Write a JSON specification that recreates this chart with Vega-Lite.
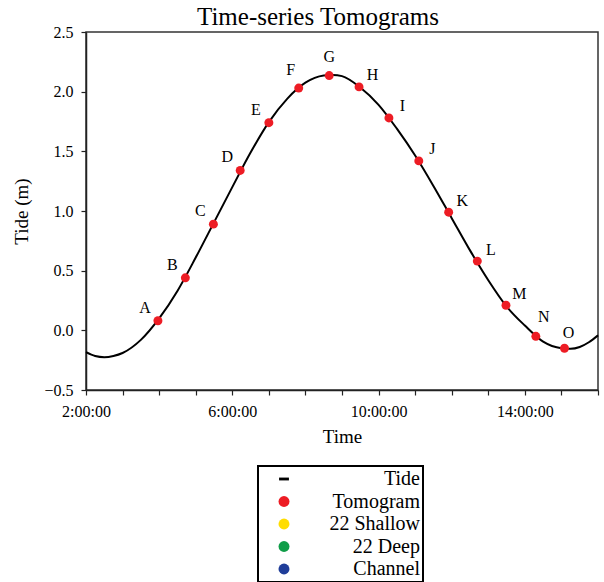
{
  "$schema": "https://vega.github.io/schema/vega-lite/v6.json",
  "width": 512,
  "height": 358,
  "autosize": {"type": "none"},
  "padding": {"left": 86, "top": 32, "right": 6, "bottom": 192},
  "background": "white",
  "title": {"text": "Time-series Tomograms", "font": "Liberation Serif", "fontSize": 25, "fontWeight": "normal", "color": "black", "anchor": "middle", "frame": "group", "dx": -24, "dy": 25, "baseline": "alphabetic", "offset": -1},
  "datasets": {
    "tide": [
      {"time": "2000-01-01T02:00:00", "tide_m": -0.183},
      {"time": "2000-01-01T02:15:00", "tide_m": -0.215},
      {"time": "2000-01-01T02:30:00", "tide_m": -0.225},
      {"time": "2000-01-01T02:45:00", "tide_m": -0.215},
      {"time": "2000-01-01T03:00:00", "tide_m": -0.19},
      {"time": "2000-01-01T03:30:00", "tide_m": -0.08},
      {"time": "2000-01-01T04:00:00", "tide_m": 0.10},
      {"time": "2000-01-01T04:30:00", "tide_m": 0.33},
      {"time": "2000-01-01T05:00:00", "tide_m": 0.61},
      {"time": "2000-01-01T05:30:00", "tide_m": 0.905},
      {"time": "2000-01-01T06:00:00", "tide_m": 1.20},
      {"time": "2000-01-01T06:30:00", "tide_m": 1.49},
      {"time": "2000-01-01T07:00:00", "tide_m": 1.745},
      {"time": "2000-01-01T07:30:00", "tide_m": 1.94},
      {"time": "2000-01-01T08:00:00", "tide_m": 2.075},
      {"time": "2000-01-01T08:30:00", "tide_m": 2.135},
      {"time": "2000-01-01T08:45:00", "tide_m": 2.14},
      {"time": "2000-01-01T09:00:00", "tide_m": 2.13},
      {"time": "2000-01-01T09:30:00", "tide_m": 2.035},
      {"time": "2000-01-01T10:00:00", "tide_m": 1.89},
      {"time": "2000-01-01T10:30:00", "tide_m": 1.69},
      {"time": "2000-01-01T11:00:00", "tide_m": 1.465},
      {"time": "2000-01-01T11:30:00", "tide_m": 1.21},
      {"time": "2000-01-01T12:00:00", "tide_m": 0.94},
      {"time": "2000-01-01T12:30:00", "tide_m": 0.67},
      {"time": "2000-01-01T13:00:00", "tide_m": 0.42},
      {"time": "2000-01-01T13:30:00", "tide_m": 0.20},
      {"time": "2000-01-01T14:00:00", "tide_m": 0.04},
      {"time": "2000-01-01T14:30:00", "tide_m": -0.095},
      {"time": "2000-01-01T15:00:00", "tide_m": -0.15},
      {"time": "2000-01-01T15:15:00", "tide_m": -0.155},
      {"time": "2000-01-01T15:30:00", "tide_m": -0.14},
      {"time": "2000-01-01T15:45:00", "tide_m": -0.10},
      {"time": "2000-01-01T16:00:00", "tide_m": -0.042}
    ],
    "tomograms": [
      {"label": "A", "time": "2000-01-01T03:58:00", "tide_m": 0.08, "series": "Tomogram"},
      {"label": "B", "time": "2000-01-01T04:43:00", "tide_m": 0.44, "series": "Tomogram"},
      {"label": "C", "time": "2000-01-01T05:29:00", "tide_m": 0.89, "series": "Tomogram"},
      {"label": "D", "time": "2000-01-01T06:13:00", "tide_m": 1.34, "series": "Tomogram"},
      {"label": "E", "time": "2000-01-01T07:00:00", "tide_m": 1.74, "series": "Tomogram"},
      {"label": "F", "time": "2000-01-01T07:49:00", "tide_m": 2.03, "series": "Tomogram"},
      {"label": "G", "time": "2000-01-01T08:39:00", "tide_m": 2.135, "series": "Tomogram"},
      {"label": "H", "time": "2000-01-01T09:28:00", "tide_m": 2.04, "series": "Tomogram"},
      {"label": "I", "time": "2000-01-01T10:17:00", "tide_m": 1.78, "series": "Tomogram"},
      {"label": "J", "time": "2000-01-01T11:06:00", "tide_m": 1.42, "series": "Tomogram"},
      {"label": "K", "time": "2000-01-01T11:55:00", "tide_m": 0.99, "series": "Tomogram"},
      {"label": "L", "time": "2000-01-01T12:42:00", "tide_m": 0.58, "series": "Tomogram"},
      {"label": "M", "time": "2000-01-01T13:29:00", "tide_m": 0.21, "series": "Tomogram"},
      {"label": "N", "time": "2000-01-01T14:18:00", "tide_m": -0.05, "series": "Tomogram"},
      {"label": "O", "time": "2000-01-01T15:05:00", "tide_m": -0.15, "series": "Tomogram"}
    ]
  },
  "encoding": {
    "x": {
      "field": "time", "type": "temporal",
      "scale": {"domain": [{"year": 2000, "month": 1, "date": 1, "hours": 2}, {"year": 2000, "month": 1, "date": 1, "hours": 16}], "nice": false},
      "axis": {
        "title": "Time",
        "values": [
          {"year": 2000, "month": 1, "date": 1, "hours": 2}, {"year": 2000, "month": 1, "date": 1, "hours": 3},
          {"year": 2000, "month": 1, "date": 1, "hours": 4}, {"year": 2000, "month": 1, "date": 1, "hours": 5},
          {"year": 2000, "month": 1, "date": 1, "hours": 6}, {"year": 2000, "month": 1, "date": 1, "hours": 7},
          {"year": 2000, "month": 1, "date": 1, "hours": 8}, {"year": 2000, "month": 1, "date": 1, "hours": 9},
          {"year": 2000, "month": 1, "date": 1, "hours": 10}, {"year": 2000, "month": 1, "date": 1, "hours": 11},
          {"year": 2000, "month": 1, "date": 1, "hours": 12}, {"year": 2000, "month": 1, "date": 1, "hours": 13},
          {"year": 2000, "month": 1, "date": 1, "hours": 14}, {"year": 2000, "month": 1, "date": 1, "hours": 15},
          {"year": 2000, "month": 1, "date": 1, "hours": 16}
        ],
        "labelExpr": "(hours(datum.value) % 4 == 2) ? timeFormat(datum.value, '%-H:%M:%S') : ''",
        "labelOverlap": false, "labelFlush": false, "labelPadding": 8, "titlePadding": 8
      }
    },
    "y": {
      "field": "tide_m", "type": "quantitative",
      "scale": {"domain": [-0.5, 2.5], "nice": false, "zero": false},
      "axis": {"title": "Tide (m)", "values": [-0.5, 0, 0.5, 1, 1.5, 2, 2.5], "format": ".1f", "labelPadding": 8, "titlePadding": 12}
    }
  },
  "layer": [
    {"data": {"name": "tide"}, "mark": {"type": "line", "color": "black", "strokeWidth": 2, "interpolate": "monotone"}},
    {
      "data": {"name": "tomograms"},
      "mark": {"type": "point", "filled": true, "size": 80, "opacity": 1},
      "encoding": {
        "color": {"field": "series", "type": "nominal", "scale": {"domain": ["Tide", "Tomogram", "22 Shallow", "22 Deep", "Channel"], "range": ["black", "#ed1c24", "#ffdd00", "#0f9d48", "#1f3d99"]}, "legend": {"title": null}},
        "shape": {"field": "series", "type": "nominal", "scale": {"domain": ["Tide", "Tomogram", "22 Shallow", "22 Deep", "Channel"], "range": ["M-0.9,-0.26H0.9V0.26H-0.9Z", "circle", "circle", "circle", "circle"]}, "legend": {"title": null}}
      }
    },
    {"data": {"name": "tomograms"}, "transform": [{"filter": {"field": "label", "oneOf": ["A", "B", "C", "D", "E"]}}], "mark": {"type": "text", "dx": -13, "dy": -13, "fontSize": 16, "font": "Liberation Serif", "color": "black"}, "encoding": {"text": {"field": "label"}}},
    {"data": {"name": "tomograms"}, "transform": [{"filter": {"field": "label", "equal": "F"}}], "mark": {"type": "text", "dx": -8, "dy": -18, "fontSize": 16, "font": "Liberation Serif", "color": "black"}, "encoding": {"text": {"field": "label"}}},
    {"data": {"name": "tomograms"}, "transform": [{"filter": {"field": "label", "equal": "G"}}], "mark": {"type": "text", "dx": 0, "dy": -19, "fontSize": 16, "font": "Liberation Serif", "color": "black"}, "encoding": {"text": {"field": "label"}}},
    {"data": {"name": "tomograms"}, "transform": [{"filter": {"field": "label", "oneOf": ["H", "I", "J", "K", "L", "M"]}}], "mark": {"type": "text", "dx": 13.5, "dy": -11.5, "fontSize": 16, "font": "Liberation Serif", "color": "black"}, "encoding": {"text": {"field": "label"}}},
    {"data": {"name": "tomograms"}, "transform": [{"filter": {"field": "label", "equal": "N"}}], "mark": {"type": "text", "dx": 8, "dy": -19, "fontSize": 16, "font": "Liberation Serif", "color": "black"}, "encoding": {"text": {"field": "label"}}},
    {"data": {"name": "tomograms"}, "transform": [{"filter": {"field": "label", "equal": "O"}}], "mark": {"type": "text", "dx": 4, "dy": -15, "fontSize": 16, "font": "Liberation Serif", "color": "black"}, "encoding": {"text": {"field": "label"}}}
  ],
  "config": {
    "font": "Liberation Serif",
    "view": {"stroke": "#333", "strokeWidth": 1.5},
    "axis": {
      "grid": false, "domainColor": "#222", "domainWidth": 1.5, "tickColor": "#222", "tickWidth": 1.2, "tickSize": 5,
      "labelFont": "Liberation Serif", "labelFontSize": 16, "labelColor": "black",
      "titleFont": "Liberation Serif", "titleFontSize": 19, "titleFontWeight": "normal", "titleColor": "black"
    },
    "legend": {
      "orient": "none", "legendX": 172, "legendY": 434, "direction": "vertical",
      "labelFont": "Liberation Serif", "labelFontSize": 20, "labelColor": "black", "labelAlign": "right", "labelOffset": 126, "labelLimit": 0,
      "symbolOffset": 13, "symbolSize": 120, "symbolStrokeWidth": 0, "padding": 3, "rowPadding": 2.5,
      "strokeColor": "black", "strokeWidth": 2, "fillColor": "white"
    }
  }
}
